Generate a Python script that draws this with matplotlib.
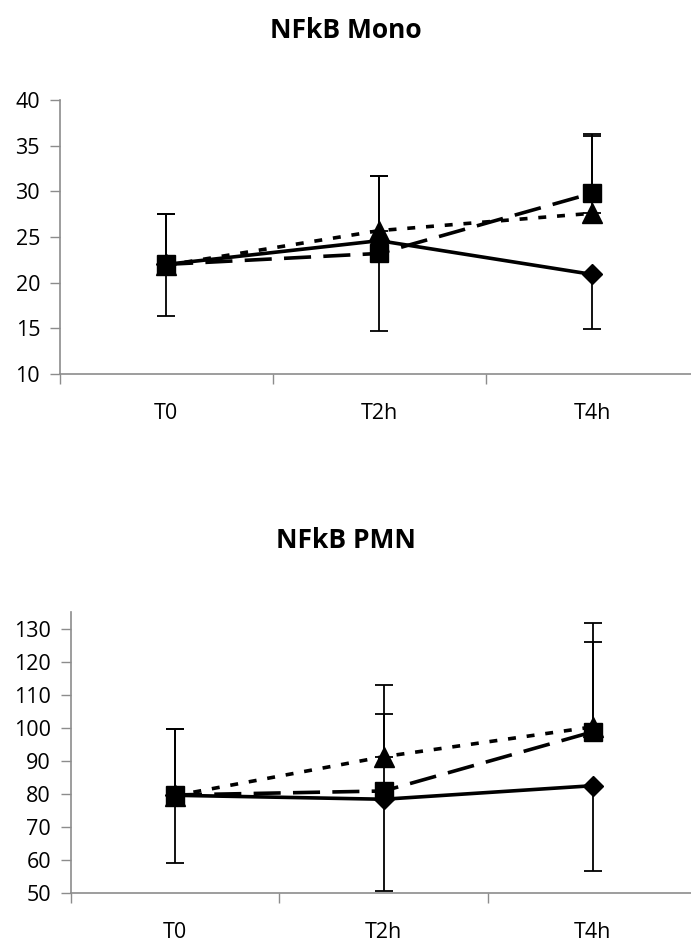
import matplotlib
matplotlib.use("Agg")
import matplotlib.pyplot as plt
import numpy as np

plt.rcParams['font.family'] = ['Open Sans', 'DejaVu Sans']

categories = ["T0", "T2h", "T4h"]

# NFkB Mono
mono_diamond = [22.0, 24.6, 20.9]
mono_square = [22.0, 23.2, 29.8]
mono_triangle = [21.9, 25.7, 27.6]
mono_diamond_err_minus = [5.6, 9.9, 6.0]
mono_square_err_plus = [5.5, 8.5, 6.3]
mono_triangle_err_plus = [5.6, 6.0, 8.7]

# NFkB PMN
pmn_diamond = [79.5, 78.3, 82.4]
pmn_square = [79.6, 80.8, 98.7]
pmn_triangle = [79.4, 91.2, 100.2]
pmn_diamond_err_minus = [20.6, 27.8, 25.8]
pmn_square_err_plus = [19.9, 23.3, 27.2]
pmn_triangle_err_plus = [20.1, 21.7, 31.5]

titles = ["NFkB Mono", "NFkB PMN"]
mono_yticks = [10, 15, 20, 25, 30, 35, 40]
pmn_yticks = [50, 60, 70, 80, 90, 100, 110, 120, 130]

W, H = 691, 943
fig = plt.figure(figsize=(W / 100, H / 100), dpi=100)

def px_axes(left, top, right, bottom):
    return fig.add_axes([left / W, 1 - bottom / H, (right - left) / W, (bottom - top) / H])

ax1 = px_axes(59.5, 100, 699, 374)
ax2 = px_axes(70.5, 612, 697, 892.7)

axis_color = "#8c8c8c"

def draw(ax, d, s, t, d_em, s_ep, t_ep, ylim, yticks, title, title_y):
    x = np.arange(len(categories))
    z = np.zeros(len(categories))
    ebkw = dict(fmt="none", ecolor="black", elinewidth=1.3, capsize=6.5, capthick=1.3)
    ax.errorbar(x, d, yerr=[d_em, z], zorder=2, **ebkw)
    ax.errorbar(x, s, yerr=[z, s_ep], zorder=2, **ebkw)
    ax.errorbar(x, t, yerr=[z, t_ep], zorder=2, **ebkw)
    ax.plot(x, d, color="black", lw=2.6, ls="-", marker="D", ms=10.5, zorder=3,
            solid_joinstyle="miter")
    ax.plot(x, t, color="black", lw=2.6, ls=(0, (2.2, 3.0)), marker="^", ms=14, zorder=4,
            dash_capstyle="butt")
    ax.plot(x, s, color="black", lw=2.6, ls=(0, (7.5, 3.4)), marker="s", ms=12.5, zorder=5,
            dash_capstyle="butt")
    ax.set_xlim(-0.5, 2.5)
    ax.set_ylim(*ylim)
    ax.set_yticks(yticks)
    ax.set_xticks([-0.5, 0.5, 1.5, 2.5])
    ax.set_xticklabels([])
    ax.set_xticks(x, minor=True)
    ax.set_xticklabels(categories, minor=True)
    ax.tick_params(axis="x", which="minor", length=0, pad=21, labelsize=15.5)
    ax.tick_params(axis="x", which="major", length=7, width=1, color=axis_color, direction="out")
    ax.tick_params(axis="y", length=7, width=1, color=axis_color, direction="out", pad=7,
                   labelsize=15.5)
    for sp in ["top", "right"]:
        ax.spines[sp].set_visible(False)
    for sp in ["left", "bottom"]:
        ax.spines[sp].set_color(axis_color)
        ax.spines[sp].set_linewidth(1.2)
    fig.text(0.5, 1 - title_y / H, title, ha="center", va="center", fontsize=19,
             fontweight="bold")

draw(ax1, mono_diamond, mono_square, mono_triangle, mono_diamond_err_minus,
     mono_square_err_plus, mono_triangle_err_plus, (10, 40), mono_yticks, titles[0], 30)
draw(ax2, pmn_diamond, pmn_square, pmn_triangle, pmn_diamond_err_minus,
     pmn_square_err_plus, pmn_triangle_err_plus, (50, 135), pmn_yticks, titles[1], 541)

fig.savefig("out.png", dpi=100)
